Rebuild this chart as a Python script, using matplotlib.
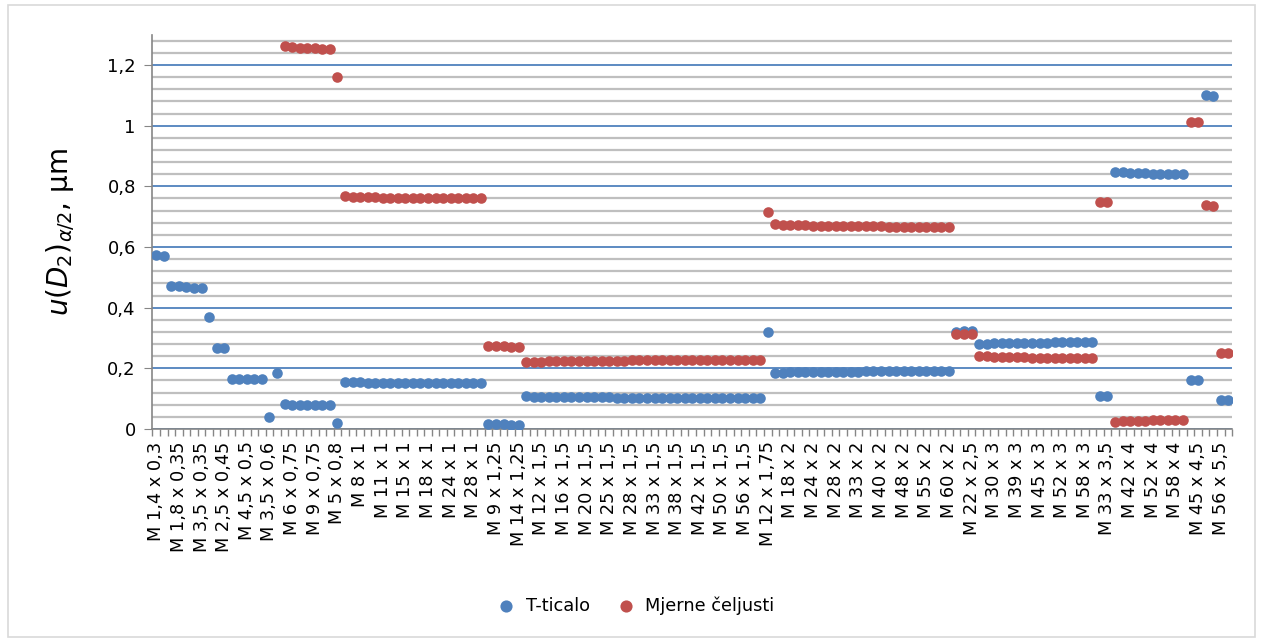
import numpy as np
import matplotlib
matplotlib.use("Agg")
import matplotlib.pyplot as plt
from matplotlib.patches import Rectangle
from matplotlib.ticker import MultipleLocator, FixedLocator, FuncFormatter

# labels shown on the x axis (every 3rd thread)
tick_labels = [
    "M 1,4 x 0,3", "M 1,8 x 0,35", "M 3,5 x 0,35", "M 2,5 x 0,45", "M 4,5 x 0,5",
    "M 3,5 x 0,6", "M 6 x 0,75", "M 9 x 0,75", "M 5 x 0,8", "M 8 x 1",
    "M 11 x 1", "M 15 x 1", "M 18 x 1", "M 24 x 1", "M 28 x 1",
    "M 9 x 1,25", "M 14 x 1,25", "M 12 x 1,5", "M 16 x 1,5", "M 20 x 1,5",
    "M 25 x 1,5", "M 28 x 1,5", "M 33 x 1,5", "M 38 x 1,5", "M 42 x 1,5",
    "M 50 x 1,5", "M 56 x 1,5", "M 12 x 1,75", "M 18 x 2", "M 24 x 2",
    "M 28 x 2", "M 33 x 2", "M 40 x 2", "M 48 x 2", "M 55 x 2",
    "M 60 x 2", "M 22 x 2,5", "M 30 x 3", "M 39 x 3", "M 45 x 3",
    "M 52 x 3", "M 58 x 3", "M 33 x 3,5", "M 42 x 4", "M 52 x 4",
    "M 58 x 4", "M 45 x 4,5", "M 56 x 5,5",
]
label_step = 3

# T-ticalo
t_ticalo = [
    0.573, 0.569,
    0.472, 0.470, 0.468, 0.466, 0.465,
    0.369,
    0.268, 0.267,
    0.166, 0.165, 0.165, 0.164, 0.164,
    0.038,
    0.183,
    0.081, 0.080, 0.079, 0.079, 0.078, 0.078, 0.078,
    0.020,
    0.155, 0.154, 0.154, 0.153, 0.153, 0.152, 0.152, 0.152, 0.151, 0.151,
    0.151, 0.151, 0.151, 0.150, 0.150, 0.150, 0.150, 0.150, 0.150,
    0.017, 0.016, 0.015, 0.014, 0.013,
    0.108, 0.107, 0.107, 0.106, 0.106, 0.105, 0.105, 0.105,
    0.104, 0.104, 0.104, 0.104, 0.103, 0.103, 0.103, 0.103,
    0.103, 0.103, 0.103, 0.102, 0.102, 0.102, 0.102, 0.102,
    0.102, 0.102, 0.102, 0.102, 0.102, 0.102, 0.102, 0.102,
    0.319,
    0.184, 0.186, 0.187, 0.187, 0.188, 0.188, 0.188, 0.189,
    0.189, 0.189, 0.189, 0.189, 0.190, 0.190, 0.190, 0.190,
    0.190, 0.190, 0.190, 0.190, 0.190, 0.190, 0.190, 0.190,
    0.321, 0.322, 0.324,
    0.280, 0.281, 0.282, 0.283, 0.283, 0.284, 0.284, 0.285,
    0.285, 0.285, 0.286, 0.286, 0.286, 0.286, 0.287, 0.287,
    0.110, 0.108,
    0.847, 0.846, 0.845, 0.844, 0.843, 0.842, 0.842, 0.841, 0.841, 0.840,
    0.160, 0.160,
    1.100, 1.099,
    0.094, 0.094,
]

# Mjerne čeljusti (no values for the first 17 threads)
mjerne_celjusti = [None] * 17 + [
    1.263, 1.259, 1.256, 1.255, 1.255, 1.254, 1.253,
    1.162,
    0.768, 0.766, 0.765, 0.764, 0.764, 0.763, 0.763, 0.762, 0.762, 0.762,
    0.761, 0.761, 0.761, 0.761, 0.760, 0.760, 0.760, 0.760, 0.760,
    0.275, 0.273, 0.272, 0.270, 0.269,
    0.220, 0.221, 0.222, 0.223, 0.223, 0.224, 0.224, 0.224,
    0.225, 0.225, 0.225, 0.225, 0.225, 0.225, 0.226, 0.226,
    0.226, 0.226, 0.226, 0.226, 0.226, 0.226, 0.226, 0.226,
    0.226, 0.226, 0.226, 0.226, 0.226, 0.226, 0.226, 0.226,
    0.714,
    0.676, 0.674, 0.673, 0.672, 0.671, 0.670, 0.670, 0.669,
    0.669, 0.669, 0.668, 0.668, 0.668, 0.668, 0.668, 0.667,
    0.667, 0.667, 0.667, 0.667, 0.667, 0.667, 0.667, 0.667,
    0.313, 0.314, 0.314,
    0.240, 0.239, 0.238, 0.237, 0.237, 0.236, 0.236, 0.235,
    0.235, 0.235, 0.234, 0.234, 0.234, 0.234, 0.233, 0.233,
    0.748, 0.748,
    0.024, 0.025, 0.026, 0.026, 0.027, 0.028, 0.028, 0.029, 0.029, 0.030,
    1.011, 1.012,
    0.738, 0.736,
    0.250, 0.251,
]

n = len(t_ticalo)
x = np.arange(n)
blue_y = np.array(t_ticalo, dtype=float)
red_y = np.array([np.nan if v is None else v for v in mjerne_celjusti], dtype=float)

blue = "#4F81BD"
red = "#C0504D"
grid_gray = "#BFBFBF"
axis_gray = "#868686"

fig = plt.figure(figsize=(12.63, 6.42), dpi=100)
fig.patches.append(Rectangle((0.006, 0.008), 0.988, 0.984, transform=fig.transFigure,
                             fill=False, edgecolor="#D9D9D9", linewidth=1.2))
ax = fig.add_axes([0.1207, 0.3318, 0.8548, 0.6142])

ax.set_xlim(-0.5, n - 0.5)
ax.set_ylim(0, 1.3)

# gridlines
ax.yaxis.set_major_locator(MultipleLocator(0.2))
ax.yaxis.set_minor_locator(MultipleLocator(0.04))
ax.grid(which="minor", axis="y", color=grid_gray, linewidth=1.6, zorder=0)
ax.grid(which="major", axis="y", color=blue, linewidth=1.3, zorder=1)
ax.set_axisbelow(True)

ax.scatter(x, blue_y, s=58, color=blue, label="T-ticalo", zorder=3, linewidths=0)
ax.scatter(x, red_y, s=58, color=red, label="Mjerne čeljusti", zorder=4, linewidths=0)

for s in ["top", "right"]:
    ax.spines[s].set_visible(False)
ax.spines["left"].set_color(axis_gray)
ax.spines["bottom"].set_color(axis_gray)
ax.spines["left"].set_linewidth(1.2)
ax.spines["bottom"].set_linewidth(1.2)

ax.yaxis.set_major_formatter(FuncFormatter(lambda v, p: ("%g" % round(v, 2)).replace(".", ",")))
ax.tick_params(axis="y", which="major", length=6, color=axis_gray, labelsize=13, pad=6)
ax.tick_params(axis="y", which="minor", length=0)

# x ticks: marks at category borders, labels at every 3rd category
ax.xaxis.set_major_locator(FixedLocator(np.arange(-0.5, n, 1.0)))
ax.xaxis.set_major_formatter(FuncFormatter(lambda v, p: ""))
ax.xaxis.set_minor_locator(FixedLocator(np.arange(0, n, label_step)))
ax.set_xticklabels(tick_labels, minor=True, rotation=90)
ax.tick_params(axis="x", which="major", length=5, color=axis_gray, width=1)
ax.tick_params(axis="x", which="minor", length=0, labelsize=12.8, pad=9)

ax.set_ylabel(r"$u(D_2)_{\alpha/2}$, µm", fontsize=20, labelpad=22)

fig.legend(loc="center", bbox_to_anchor=(0.5, 0.057), ncol=2, frameon=False,
           fontsize=12.8, handletextpad=0.1, columnspacing=1.0, markerscale=1.15)

plt.savefig("out.png", dpi=100)
